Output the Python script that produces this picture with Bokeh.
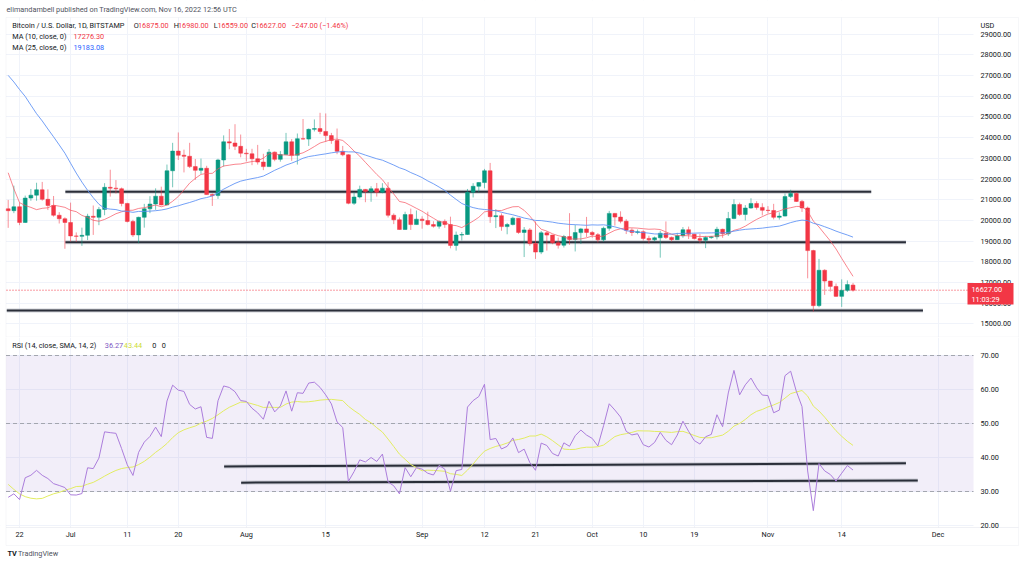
import numpy as np
import pandas as pd
from bokeh.plotting import figure
from bokeh.models import (ColumnDataSource, Range1d, FixedTicker, Label, Grid,
                          BoxAnnotation, NumeralTickFormatter, LinearAxis)
from bokeh.layouts import column
from bokeh.embed import file_html
from bokeh.resources import INLINE

# ---------------- data ----------------
history_start = "2022-04-01"
history_close = [
    46300, 45800, 46450, 46620, 45500, 43170, 43440, 42250, 42760, 42160,
    39530, 40080, 41150, 39940, 40550, 40400, 39700, 40800, 41500, 41370,
    40480, 39710, 39450, 39450, 40430, 38110, 39240, 39740, 38600, 37640,
    38470, 38530, 37720, 39690, 36550, 36020, 35470, 34060, 30080, 31010,
    29100, 29050, 29280, 29860, 31300, 29860, 30420, 28720, 30290, 29200,
    29430, 30280, 29100, 29650, 29540, 29200, 28620, 29020, 29450, 31720,
    31790, 29800, 30450, 29700, 29860, 29900, 31370, 31130, 30200, 30110,
    29080, 28420, 26580, 22470, 22120, 22580, 20380, 20450, 19010, 20550,
]

start_date = "2022-06-20"
open_ = [
    20560, 20470, 20660, 19900, 21080, 21220, 21480, 21020, 20720, 20250,
    20080, 19900, 19250, 19230, 19280, 20200, 20150, 20530, 21600, 21560,
    21530, 20820, 19950, 19300, 20150, 20560, 20790, 21170, 20750, 22400,
    23350, 23150, 23100, 22600, 22420, 22520, 21250, 21200, 22920, 23800,
    23740, 23580, 23250, 23220, 22980, 22820, 22600, 23300, 22950, 23180,
    23800, 23150, 23950, 23930, 24400, 24440, 24300, 24100, 23860, 23340,
    23170, 20830, 21130, 21500, 21400, 21530, 21360, 21560, 20250, 20030,
    19560, 20280, 19800, 20060, 19990, 19800, 19720, 19950, 19800, 18790,
    19290, 19320, 21360, 21650, 21830, 22400, 20180, 20230, 19700, 19800,
    20110, 19420, 19540, 18880, 18470, 19400, 19290, 18920, 18800, 19220,
    19080, 19410, 19590, 19420, 19310, 19060, 19620, 20340, 20160, 19960,
    19530, 19420, 19450, 19130, 19060, 19160, 19380, 19180, 19070, 19260,
    19550, 19330, 19120, 19040, 19170, 19210, 19570, 19350, 20090, 20770,
    20290, 20600, 20820, 20630, 20490, 20480, 20150, 20210, 21150, 21300,
    20920, 20600, 18540, 15880, 17590, 17070, 16810, 16330, 16620, 16875,
]
high = [
    20990, 21680, 20860, 21200, 21520, 21820, 21860, 21500, 21180, 20400,
    20150, 20860, 19420, 19650, 20320, 20720, 20650, 21800, 22450, 21950,
    21590, 20850, 20030, 20180, 20800, 21170, 21550, 21630, 22700, 23750,
    24250, 23420, 23750, 22970, 22990, 22640, 21300, 22980, 24110, 24420,
    24650, 24150, 23460, 23460, 23650, 23220, 23450, 23330, 23350, 24230,
    23930, 24200, 24900, 24440, 24880, 25200, 25170, 24230, 24440, 23600,
    23200, 21370, 21680, 21520, 21650, 21810, 21800, 21850, 20340, 20140,
    20420, 20570, 20480, 20200, 20420, 19960, 20000, 20050, 20180, 19460,
    19440, 21520, 21800, 21850, 22490, 22780, 20540, 20340, 19880, 20180,
    20110, 19680, 19630, 19950, 19490, 19480, 19300, 19170, 19300, 20350,
    19780, 19640, 20170, 19480, 19390, 19700, 20460, 20360, 20440, 20060,
    19620, 19560, 19520, 19260, 19220, 19500, 19950, 19220, 19400, 19680,
    19700, 19350, 19350, 19250, 19250, 19690, 19600, 20410, 21020, 20860,
    20740, 21070, 20930, 20830, 20690, 20800, 20390, 21300, 21480, 21360,
    20990, 20670, 18580, 18140, 17640, 17070, 16950, 17150, 17100, 16980,
]
low = [
    19640, 20350, 19770, 19880, 20950, 20950, 20950, 20500, 20180, 19850,
    18630, 18980, 18960, 18770, 19050, 19300, 19770, 20250, 21150, 21300,
    20680, 19900, 19200, 18900, 19650, 20350, 20510, 20730, 20740, 21600,
    22920, 22320, 22530, 21960, 22250, 21240, 20700, 21040, 22600, 23440,
    23400, 23050, 22850, 22670, 22700, 22430, 22590, 22860, 22840, 23150,
    22880, 22700, 23900, 23600, 24300, 24170, 23800, 23700, 23200, 23100,
    20780, 20750, 21060, 20880, 20900, 21150, 21310, 20140, 19820, 19550,
    19550, 19540, 19800, 19600, 19760, 19650, 19600, 19640, 18650, 18540,
    19030, 19300, 21110, 21360, 21550, 19880, 19630, 19500, 19330, 19760,
    19350, 18230, 18770, 18140, 18370, 18540, 18850, 18640, 18690, 18820,
    18500, 18860, 19200, 19160, 18930, 18970, 19500, 19750, 19860, 19340,
    19250, 19330, 19030, 18880, 18980, 18200, 19100, 18980, 19060, 19160,
    19100, 19080, 18900, 18660, 19110, 19080, 19160, 19250, 20060, 20210,
    20000, 20560, 20520, 20240, 20350, 20050, 20040, 20190, 21080, 20890,
    20410, 17200, 15590, 15800, 16400, 16560, 16300, 15820, 16540, 16559,
]
close = [
    20470, 20660, 19900, 21080, 21220, 21480, 21020, 20720, 20250, 20080,
    19900, 19250, 19230, 19280, 20200, 20150, 20530, 21600, 21560, 21530,
    20820, 19950, 19300, 20150, 20560, 20790, 21170, 20750, 22400, 23350,
    23150, 23100, 22600, 22420, 22520, 21250, 21200, 22920, 23800, 23740,
    23580, 23250, 23220, 22980, 22820, 22600, 23300, 22950, 23180, 23800,
    23150, 23950, 23930, 24400, 24440, 24300, 24100, 23860, 23340, 23170,
    20830, 21130, 21500, 21400, 21530, 21360, 21560, 20250, 20030, 19560,
    20280, 19800, 20060, 19990, 19800, 19720, 19950, 19800, 18790, 19290,
    19320, 21360, 21650, 21830, 22400, 20180, 20230, 19700, 19800, 20110,
    19420, 19540, 18880, 18470, 19400, 19290, 18920, 18800, 19220, 19080,
    19410, 19590, 19420, 19310, 19060, 19620, 20340, 20160, 19960, 19530,
    19420, 19450, 19130, 19060, 19160, 19380, 19180, 19070, 19260, 19550,
    19330, 19120, 19040, 19170, 19210, 19570, 19350, 20090, 20770, 20290,
    20600, 20820, 20630, 20490, 20480, 20150, 20210, 21150, 21300, 20920,
    20600, 18540, 15880, 17590, 17070, 16810, 16330, 16620, 16900, 16627,
]

last_price = 16627.00
price_ticks = [15000, 16000, 17000, 18000, 19000, 20000, 21000, 22000,
               23000, 24000, 25000, 26000, 27000, 28000, 29000]
rsi_ticks = [20, 30, 40, 50, 60, 70]
rsi_levels = [70, 50, 30]

date_tick_dates = ["2022-06-22", "2022-07-01", "2022-07-11", "2022-07-20",
                   "2022-08-01", "2022-08-15", "2022-09-01", "2022-09-12",
                   "2022-09-21", "2022-10-01", "2022-10-10", "2022-10-19",
                   "2022-11-01", "2022-11-14", "2022-12-01"]
date_tick_labels = ["22", "Jul", "11", "20", "Aug", "15", "Sep", "12", "21",
                    "Oct", "10", "19", "Nov", "14", "Dec"]

# user-drawn horizontal levels on price pane
level_start = ["2022-06-30 02:00", "2022-06-30 02:00", "2022-06-19 18:00"]
level_end = ["2022-11-19 05:00", "2022-11-25 08:00", "2022-11-28 08:00"]
level_value = [21380, 18940, 15650]

# trend lines on RSI pane
rsi_line_start = ["2022-07-28 02:00", "2022-07-31 02:00"]
rsi_line_end = ["2022-11-25 08:00", "2022-11-27 10:00"]
rsi_line_v0 = [37.35, 32.6]
rsi_line_v1 = [38.3, 33.2]

# ---------------- derived ----------------
DAY = 86400000


def ms(s):
    return pd.Timestamp(s).value // 10**6


dates = pd.date_range(start_date, periods=len(close), freq="D")
xs = dates.asi8 // 10**6
start_ms = ms(start_date)

all_close = pd.Series(history_close + close, dtype=float)
nh = len(history_close)
ma10 = all_close.rolling(10).mean().iloc[nh:].values
ma25 = all_close.rolling(25).mean().iloc[nh:].values

chg = all_close.diff().values[1:]
gain = np.where(chg > 0, chg, 0.0)
loss = np.where(chg < 0, -chg, 0.0)
n = 14
ag = np.full(len(all_close), np.nan)
al = np.full(len(all_close), np.nan)
ag[n] = gain[:n].mean()
al[n] = loss[:n].mean()
for k in range(n + 1, len(all_close)):
    ag[k] = (ag[k - 1] * (n - 1) + gain[k - 1]) / n
    al[k] = (al[k - 1] * (n - 1) + loss[k - 1]) / n
rsi_all = 100 - 100 / (1 + ag / al)
rsi_sma_all = pd.Series(rsi_all).rolling(14).mean().values
rsi = rsi_all[nh:]
rsi_sma = rsi_sma_all[nh:]

UP, DOWN = "#089981", "#f23645"
colors = [UP if c >= o else DOWN for o, c in zip(open_, close)]
src = ColumnDataSource(dict(
    x=xs, o=open_, h=high, l=low, c=close,
    top=[max(a, b) for a, b in zip(open_, close)],
    bot=[min(a, b) for a, b in zip(open_, close)],
    color=colors, ma10=ma10, ma25=ma25, rsi=rsi, rsi_sma=rsi_sma,
))

# ---------------- layout calibration (page pixels) ----------------
FONT = "Roboto"
FS = "7.3px"
TXT = "#131722"
GRID = "#f0f3fa"
BORDER = "#e0e3eb"

X0_PX, PX_PER_DAY = 7.7, 5.67


def px_x(px):
    return start_ms + (px - X0_PX) / PX_PER_DAY * DAY


def py_price(py):
    return 29000 - (py - 33.7) * (1000 / 20.69)


def py_rsi(py):
    return 30 + (491 - py) / 3.4


W = 1024
P1_H = 337
P2_TOP = 337
P2_H = 565 - P2_TOP
AX_PX = 973        # right price scale starts here
LEFT_PX = 5.5
RIGHT_PX = 1018

xr = Range1d(px_x(0), px_x(W))
tick_ms = [ms(d) for d in date_tick_dates]


def style_axis(a):
    a.major_tick_line_color = None
    a.minor_tick_line_color = None
    a.major_tick_out = 0
    a.major_tick_in = 0
    a.minor_tick_out = 0
    a.minor_tick_in = 0
    a.axis_line_color = None
    a.major_label_text_font = FONT
    a.major_label_text_font_size = FS
    a.major_label_text_color = TXT


def white_box(fig, **kw):
    fig.add_layout(BoxAnnotation(fill_color="white", fill_alpha=1, line_color=None,
                                 level="underlay", **kw))


def make_label(fig, canvas_h, top_px, px, py, text, color=TXT, size=FS, bold=False):
    fig.add_layout(Label(x=px, y=canvas_h - (py - top_px), x_units="screen", y_units="screen",
                         text=text, text_font=FONT, text_font_size=size, text_color=color,
                         text_baseline="middle", text_align="left",
                         text_font_style="bold" if bold else "normal"))


# ---------------- price pane ----------------
p1 = figure(width=W, height=P1_H, x_range=xr,
            y_range=Range1d(py_price(P1_H), py_price(0)),
            output_backend="svg", toolbar_location=None,
            x_axis_location=None, y_axis_location=None, min_border=0)
p1.outline_line_color = None
p1.grid.visible = False
p1.add_layout(Grid(dimension=0, ticker=FixedTicker(ticks=tick_ms), grid_line_color=GRID))
p1.add_layout(Grid(dimension=1, ticker=FixedTicker(ticks=price_ticks), grid_line_color=GRID))
white_box(p1, left=px_x(AX_PX))
white_box(p1, right=px_x(LEFT_PX))
white_box(p1, bottom=py_price(17))
p1.add_layout(BoxAnnotation(left=px_x(LEFT_PX), right=px_x(RIGHT_PX), top=py_price(17),
                            bottom=py_price(336.5), fill_color=None, line_color=BORDER,
                            line_width=1, level="underlay"))

pax = LinearAxis(fixed_location=px_x(AX_PX), ticker=FixedTicker(ticks=price_ticks),
                 formatter=NumeralTickFormatter(format="0.00"), major_label_standoff=7)
style_axis(pax)
p1.add_layout(pax, "right")

p1.line([px_x(LEFT_PX + 0.5), px_x(967)], [last_price, last_price], line_color=DOWN,
        line_dash="1 2", line_width=1)

for s, e, v in zip(level_start, level_end, level_value):
    p1.line([ms(s), ms(e)], [v, v], line_color="#b2b5be", line_width=4, line_alpha=0.6)
    p1.line([ms(s), ms(e)], [v, v], line_color="#2a2e39", line_width=2)

p1.segment("x", "h", "x", "l", source=src, line_color="color", line_alpha=0.55, line_width=1)
p1.vbar(x="x", width=0.68 * DAY, top="top", bottom="bot", source=src,
        fill_color="color", line_color="color", line_width=0.5)
p1.line("x", "ma10", source=src, line_color="#f7525f", line_alpha=0.7, line_width=1)
p1.line("x", "ma25", source=src, line_color="#5b8ff5", line_alpha=0.85, line_width=1)

p1.add_layout(BoxAnnotation(left=px_x(967), right=px_x(1013), top=py_price(282.5),
                            bottom=py_price(304), fill_color=DOWN, fill_alpha=1,
                            line_color=None))


def lab1(px, py, text, color=TXT, **kw):
    make_label(p1, P1_H, 0, px, py, text, color, **kw)


lab1(6, 9, "elimandambell published on TradingView.com, Nov 16, 2022 12:56 UTC", "#50535e")
lab1(11.7, 25, "Bitcoin / U.S. Dollar, 1D, BITSTAMP")
for px, t, col in [(133.3, "O", TXT), (137.5, "16875.00", DOWN), (173.3, "H", TXT),
                   (177.5, "16980.00", DOWN), (213.3, "L", TXT), (216.9, "16559.00", DOWN),
                   (250.7, "C", TXT), (254.9, "16627.00", DOWN),
                   (290.7, "\u2212247.00 (\u22121.46%)", DOWN)]:
    lab1(px, 25, t, col)
lab1(11.7, 36, "MA (10, close, 0)")
lab1(73, 36, "17276.30", DOWN)
lab1(11.7, 47, "MA (25, close, 0)")
lab1(73, 47, "19183.08", "#2962ff")
lab1(980, 25, "USD")
lab1(971, 288.5, "16627.00", "white")
lab1(971, 298.5, "11:03:29", "white")

# ---------------- RSI pane ----------------
p2 = figure(width=W, height=P2_H, x_range=xr,
            y_range=Range1d(py_rsi(565), py_rsi(P2_TOP)),
            output_backend="svg", toolbar_location=None,
            x_axis_location=None, y_axis_location=None, min_border=0)
p2.outline_line_color = None
p2.grid.visible = False
p2.add_layout(Grid(dimension=0, ticker=FixedTicker(ticks=tick_ms), grid_line_color=GRID))
p2.add_layout(Grid(dimension=1, ticker=FixedTicker(ticks=rsi_ticks), grid_line_color=GRID))
white_box(p2, left=px_x(AX_PX))
white_box(p2, right=px_x(LEFT_PX))
white_box(p2, top=py_rsi(527))
p2.add_layout(BoxAnnotation(left=px_x(LEFT_PX), right=px_x(AX_PX), bottom=30, top=70,
                            fill_color="#7e57c2", fill_alpha=0.1, line_color=None,
                            level="underlay"))
p2.add_layout(BoxAnnotation(left=px_x(LEFT_PX), right=px_x(RIGHT_PX), top=py_rsi(320),
                            bottom=py_rsi(527), fill_color=None, line_color=BORDER,
                            level="underlay"))
p2.add_layout(BoxAnnotation(left=px_x(LEFT_PX), right=px_x(RIGHT_PX), top=py_rsi(527),
                            bottom=py_rsi(545), fill_color=None, line_color=BORDER,
                            level="underlay"))

rax = LinearAxis(fixed_location=px_x(AX_PX), ticker=FixedTicker(ticks=rsi_ticks),
                 formatter=NumeralTickFormatter(format="0.00"), major_label_standoff=7)
style_axis(rax)
p2.add_layout(rax, "right")

tax = LinearAxis(fixed_location=py_rsi(527), ticker=FixedTicker(ticks=tick_ms),
                 major_label_standoff=2,
                 major_label_overrides={t: l for t, l in zip(tick_ms, date_tick_labels)})
style_axis(tax)
p2.add_layout(tax, "below")

p2.segment(x0=[px_x(LEFT_PX)] * 3, x1=[px_x(AX_PX)] * 3, y0=rsi_levels, y1=rsi_levels,
           line_color="#a3a6af", line_dash="4 3", line_width=1)

for s, e, v0, v1 in zip(rsi_line_start, rsi_line_end, rsi_line_v0, rsi_line_v1):
    p2.line([ms(s), ms(e)], [v0, v1], line_color="#b2b5be", line_width=4, line_alpha=0.6)
    p2.line([ms(s), ms(e)], [v0, v1], line_color="#2a2e39", line_width=2)

p2.line("x", "rsi_sma", source=src, line_color="#e2ec62", line_width=1)
p2.line("x", "rsi", source=src, line_color="#ab7ddb", line_width=1)


def lab2(px, py, text, color=TXT, **kw):
    make_label(p2, P2_H, P2_TOP, px, py, text, color, **kw)


lab2(11.7, 345, "RSI (14, close, SMA, 14, 2)")
lab2(104.3, 345, "36.27", "#7e57c2")
lab2(123.3, 345, "43.44", "#cddc39")
lab2(151.7, 345, "0")
lab2(161.3, 345, "0")
lab2(7, 553, "TV", TXT, bold=True)
lab2(17.5, 553, "TradingView", "#50535e")

layout = column(p1, p2, spacing=0)
open("out.html", "w").write(file_html(layout, INLINE))
